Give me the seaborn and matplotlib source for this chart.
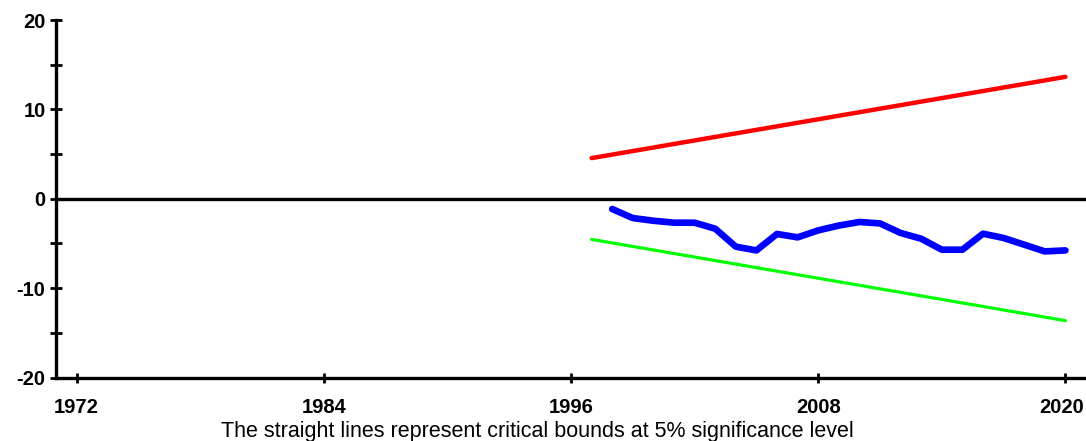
import matplotlib
matplotlib.use("Agg")
import matplotlib.pyplot as plt
from matplotlib.ticker import MultipleLocator
from matplotlib.transforms import ScaledTranslation
import seaborn as sns
import pandas as pd

# Recursive-residual CUSUM test with 5% critical bounds
bound_years = list(range(1997, 2021))
upper_bound = [4.55, 4.94, 5.34, 5.73, 6.13, 6.52, 6.92, 7.31, 7.71, 8.10, 8.50, 8.89,
               9.29, 9.68, 10.08, 10.47, 10.87, 11.26, 11.66, 12.05, 12.45, 12.84, 13.24, 13.64]
lower_bound = [-4.55, -4.94, -5.34, -5.73, -6.13, -6.52, -6.92, -7.31, -7.71, -8.10, -8.50, -8.89,
               -9.29, -9.68, -10.08, -10.47, -10.87, -11.26, -11.66, -12.05, -12.45, -12.84, -13.24, -13.64]
cusum_years = list(range(1998, 2021))
cusum = [-1.15, -2.16, -2.46, -2.68, -2.68, -3.35, -5.36, -5.78, -3.94, -4.32, -3.54, -3.00,
         -2.60, -2.76, -3.83, -4.47, -5.70, -5.70, -3.91, -4.39, -5.14, -5.89, -5.78]
x_ticks = [1972, 1984, 1996, 2008, 2020]
y_ticks = [-20, -10, 0, 10, 20]
caption = "The straight lines represent critical bounds at 5% significance level"

bounds = pd.DataFrame({"year": bound_years, "upper": upper_bound, "lower": lower_bound})
cs = pd.DataFrame({"year": cusum_years, "cusum": cusum})

sns.set_style("white")
plt.rcParams["font.family"] = ["Liberation Sans", "DejaVu Sans"]
plt.rcParams["axes.unicode_minus"] = False
plt.rcParams["text.color"] = "black"
plt.rcParams["xtick.color"] = "black"
plt.rcParams["ytick.color"] = "black"

fig = plt.figure(figsize=(10.86, 4.41), dpi=100)
ax = fig.add_axes([56 / 1086, 1 - 377.5 / 441, 1030 / 1086, (377.5 - 20) / 441])

ax.axhline(0, color="black", lw=2.4, zorder=1)
sns.lineplot(data=bounds, x="year", y="upper", ax=ax, color="#ff0000", lw=3.2, zorder=2)
sns.lineplot(data=bounds, x="year", y="lower", ax=ax, color="#00ff00", lw=2.3, zorder=2)
sns.lineplot(data=cs, x="year", y="cusum", ax=ax, color="#0000ff", lw=4.8, zorder=3)

ax.set_xlim(1971, 2021)
ax.set_ylim(-20, 20)
ax.set_xticks(x_ticks)
ax.set_yticks(y_ticks)
ax.yaxis.set_minor_locator(MultipleLocator(5))
ax.set_xlabel("")
ax.set_ylabel("")

for side in ("top", "right"):
    ax.spines[side].set_visible(False)
for side in ("left", "bottom"):
    ax.spines[side].set_linewidth(2.4)
    ax.spines[side].set_color("black")

ax.tick_params(axis="y", which="both", direction="inout", length=9, width=2, pad=3,
               labelsize=14.5, left=True, colors="black")
ax.tick_params(axis="x", which="major", direction="inout", length=7, width=2, pad=11,
               labelsize=14.5, bottom=True, colors="black")
for lbl in ax.get_xticklabels() + ax.get_yticklabels():
    lbl.set_fontweight("bold")

# keep the last year label inside the canvas
last = ax.get_xticklabels()[-1]
last.set_transform(last.get_transform() + ScaledTranslation(-0.04, 0, fig.dpi_scale_trans))

fig.text(537 / 1086, 1 - 432 / 441, caption, ha="center", va="center", fontsize=15.5,
         color="black")

fig.savefig("out.png", dpi=100)
